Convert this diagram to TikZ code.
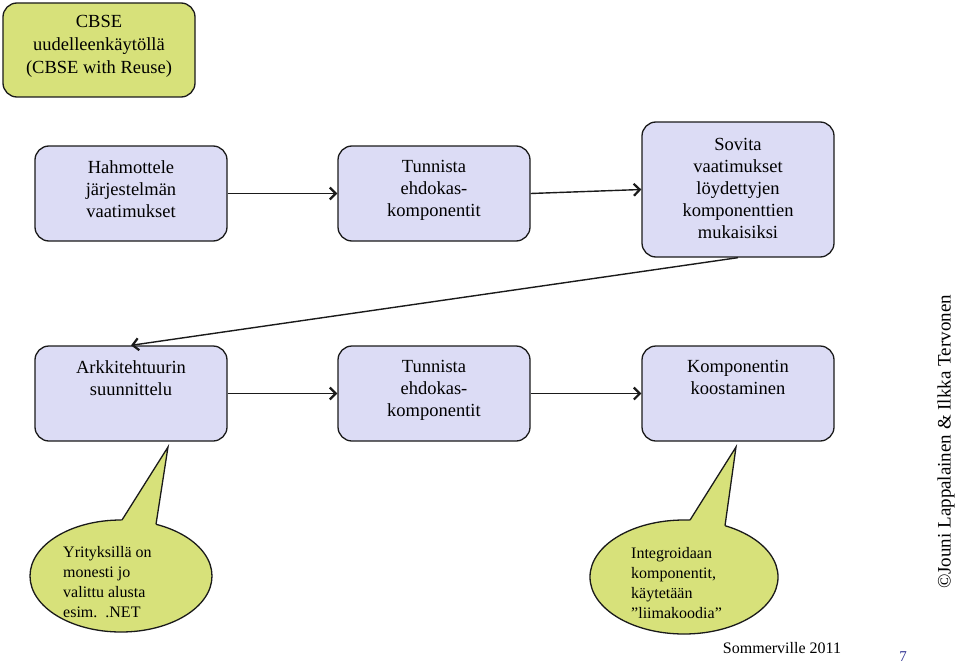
\documentclass[tikz,border=0pt]{standalone}
\usepackage{fontspec}
\setmainfont{Liberation Serif}
\usetikzlibrary{arrows.meta,calc}
\definecolor{boxfill}{HTML}{DCDCF5}
\definecolor{notefill}{HTML}{D7E17A}
\definecolor{edge}{HTML}{1A1A1A}
\definecolor{pagenum}{HTML}{2E3192}
\begin{document}
\begin{tikzpicture}[x=1pt,y=-1pt,
  stepbox/.style={draw=edge, line width=1.3pt, fill=boxfill, rounded corners=14pt, minimum width=192pt, minimum height=95pt, inner sep=0pt},
  boxtext/.style={anchor=north, inner sep=0pt, align=center, font=\fontsize{18.5}{22}\selectfont},
  flow/.style={draw=edge, line width=1.4pt, -{Straight Barb[length=6pt,width=12pt,line width=2.2pt]}},
  notetext/.style={anchor=north west, inner sep=0pt, align=left, font=\fontsize{16}{19.8}\selectfont},
  noteline/.style={draw=edge, line width=1.3pt}]
\useasboundingbox (0,0) rectangle (960,666);

% title
\node[stepbox, fill=notefill, minimum height=94pt] (title) at (99,50) {};
\node[boxtext, font=\fontsize{18.5}{23}\selectfont, yshift=-13pt] (titletext) at (title.north) {CBSE\\uudelleenkäytöllä\\(CBSE with Reuse)};

% boxes
\node[stepbox] (b1) at (131,193.5) {};
\node[stepbox] (b2) at (434,193.5) {};
\node[stepbox, minimum height=135pt] (b3) at (738,189.5) {};
\node[stepbox] (b4) at (131,393.5) {};
\node[stepbox] (b5) at (434,393.5) {};
\node[stepbox] (b6) at (738,393.5) {};

\node[boxtext, yshift=-15pt] (t1) at (b1.north) {Hahmottele\\järjestelmän\\vaatimukset};
\node[boxtext, yshift=-15pt] (t2) at (b2.north) {Tunnista\\ehdokas-\\komponentit};
\node[boxtext, yshift=-16.5pt] (t3) at (b3.north) {Sovita\\vaatimukset\\löydettyjen\\komponenttien\\mukaisiksi};
\node[boxtext, yshift=-15pt] (t4) at (b4.north) {Arkkitehtuurin\\suunnittelu};
\node[boxtext, yshift=-15pt] (t5) at (b5.north) {Tunnista\\ehdokas-\\komponentit};
\node[boxtext, yshift=-15pt] (t6) at (b6.north) {Komponentin\\koostaminen};

% connectors
\draw[flow] (b1.east) -- (b2.west);
\draw[flow] (b2.east) -- (b3.west);
\draw[flow] (b3.south) -- (b4.north);
\draw[flow] (b4.east) -- (b5.west);
\draw[flow] (b5.east) -- (b6.west);

% left callout
\coordinate (tip1) at (168,447);
\coordinate (l1a) at (122,520);
\coordinate (l1b) at (156,524.3);
\path[fill=notefill, noteline] (121,576) ellipse [x radius=91pt, y radius=56pt];
\fill[notefill] (108.2,541.9) -- (tip1) -- (152.4,547.5) -- cycle;
\draw[noteline, line join=miter] (l1a) -- (tip1) -- (l1b);
\node[notetext] (n1) at (63,546.5) {Yrityksillä on\\monesti jo\\valittu alusta\\esim.\ \ .NET};

% right callout
\coordinate (tip2) at (736,447);
\coordinate (l2a) at (690,520.1);
\coordinate (l2b) at (725,525.7);
\path[fill=notefill, noteline] (684,577) ellipse [x radius=94pt, y radius=57pt];
\fill[notefill] (676.2,542) -- (tip2) -- (721.7,549.3) -- cycle;
\draw[noteline, line join=miter] (l2a) -- (tip2) -- (l2b);
\node[notetext] (n2) at (631,547.5) {Integroidaan\\komponentit,\\käytetään\\”liimakoodia”};

% footer
\node[inner sep=0pt, font=\fontsize{16}{18}\selectfont] (src) at (782,648) {Sommerville 2011};
\node[inner sep=0pt, font=\fontsize{15}{17}\selectfont, text=pagenum] (page) at (903,657) {7};
\node[inner sep=0pt, rotate=90, font=\fontsize{19}{22}\selectfont] (copy) at (946,442) {©Jouni Lappalainen \& Ilkka Tervonen};
\end{tikzpicture}
\end{document}
